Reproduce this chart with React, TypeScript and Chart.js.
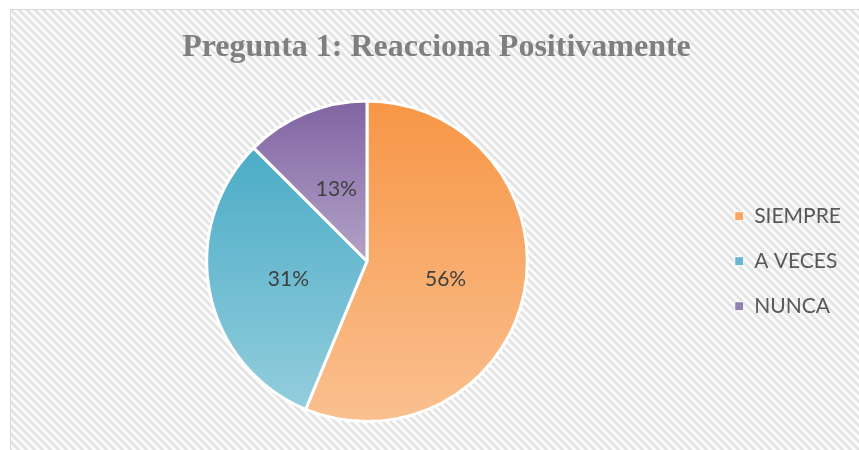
import React, { useEffect, useRef } from "react";
import { Chart, registerables } from "chart.js";

Chart.register(...registerables);

const chartTitle = "Pregunta 1: Reacciona Positivamente";
const categories = ["SIEMPRE", "A VECES", "NUNCA"];
const values = [56.25, 31.25, 12.5];
const topColors = ["#F79646", "#4BACC6", "#8064A2"];
const bottomColors = ["#FAC090", "#93CDDD", "#B3A2C7"];
const legendColors = ["#F8A665", "#68B9CF", "#9580B3"];

const PIE_CENTER_X = 356;

const hatchPlugin = {
  id: "hatchBackground",
  beforeDraw(chart: any) {
    const { ctx, width, height } = chart;
    const tile = document.createElement("canvas");
    tile.width = 8;
    tile.height = 8;
    const tctx = tile.getContext("2d")!;
    const img = tctx.createImageData(8, 8);
    for (let y = 0; y < 8; y++) {
      for (let x = 0; x < 8; x++) {
        const t = (((x - y) % 8) + 8) % 8;
        const shade = 0.5 + 0.5 * Math.cos((2 * Math.PI * t) / 8);
        const v = Math.round(255 - 30 * shade);
        const k = (y * 8 + x) * 4;
        img.data[k] = v;
        img.data[k + 1] = v;
        img.data[k + 2] = v;
        img.data[k + 3] = 255;
      }
    }
    tctx.putImageData(img, 0, 0);
    ctx.save();
    ctx.fillStyle = ctx.createPattern(tile, "repeat");
    ctx.fillRect(0, 0, width, height);
    ctx.restore();
  },
};

const shiftPlugin = {
  id: "pieShift",
  afterLayout(chart: any) {
    const a = chart.chartArea;
    const d = (a.left + a.right) / 2 - PIE_CENTER_X;
    a.left -= d;
    a.right -= d;
  },
};

const gradientPlugin = {
  id: "sliceGradient",
  beforeDatasetsDraw(chart: any) {
    const meta = chart.getDatasetMeta(0);
    meta.data.forEach((arc: any, i: number) => {
      const { y, startAngle, endAngle, outerRadius } = arc.getProps(
        ["x", "y", "startAngle", "endAngle", "outerRadius"],
        true
      );
      let top = y;
      let bottom = y;
      const consider = (a: number) => {
        const py = y + Math.sin(a) * outerRadius;
        top = Math.min(top, py);
        bottom = Math.max(bottom, py);
      };
      consider(startAngle);
      consider(endAngle);
      for (let k = -3; k <= 3; k++) {
        const a = Math.PI / 2 + k * Math.PI;
        if (a >= startAngle && a <= endAngle) consider(a);
      }
      const g = chart.ctx.createLinearGradient(0, top, 0, bottom);
      g.addColorStop(0, topColors[i]);
      g.addColorStop(1, bottomColors[i]);
      arc.options = Object.assign({}, arc.options, { backgroundColor: g });
    });
  },
};

const labelPlugin = {
  id: "sliceLabels",
  afterDatasetsDraw(chart: any) {
    const { ctx } = chart;
    const meta = chart.getDatasetMeta(0);
    const total = values.reduce((s, v) => s + v, 0);
    ctx.save();
    ctx.font = "21px Lato";
    ctx.fillStyle = "#404040";
    ctx.textAlign = "center";
    ctx.textBaseline = "middle";
    meta.data.forEach((arc: any, i: number) => {
      const p = arc.tooltipPosition(true);
      const pct = Math.round((values[i] / total) * 100) + "%";
      ctx.fillText(pct, p.x, p.y + 2);
    });
    ctx.restore();
  },
};

export default function App() {
  const ref = useRef<HTMLCanvasElement>(null);

  useEffect(() => {
    document.documentElement.style.overflow = "hidden";
    document.body.style.overflow = "hidden";
    const chart = new Chart(ref.current!, {
      type: "pie",
      data: {
        labels: categories,
        datasets: [
          {
            data: values,
            backgroundColor: legendColors,
            borderColor: "#ffffff",
            borderWidth: 3,
          },
        ],
      },
      options: {
        responsive: false,
        animation: false,
        devicePixelRatio: 1,
        layout: { padding: { left: 11, right: 12, top: 0, bottom: 37 } },
        plugins: {
          tooltip: { enabled: false },
          title: {
            display: true,
            text: chartTitle,
            color: "#7f7f7f",
            font: { family: "'Liberation Serif', 'Times New Roman', serif", size: 32, weight: "bold" },
            padding: { top: 19, bottom: 32 },
          },
          legend: {
            position: "right",
            align: "center",
            fullSize: false,
            labels: {
              boxWidth: 9,
              boxHeight: 9,
              padding: 24,
              color: "#595959",
              font: { family: "Lato", size: 21 },
              generateLabels: () =>
                categories.map((c, i) => ({
                  text: c,
                  fillStyle: legendColors[i],
                  strokeStyle: "#ffffff",
                  lineWidth: 1,
                  hidden: false,
                  index: i,
                  fontColor: "#595959",
                })),
            },
          },
        },
      },
      plugins: [hatchPlugin, shiftPlugin, gradientPlugin, labelPlugin],
    } as any);
    return () => chart.destroy();
  }, []);

  return (
    <div
      style={{
        position: "fixed",
        left: 10,
        top: 9,
        width: 852,
        height: 450,
        border: "1px solid #d9d9d9",
        overflow: "hidden",
      }}
    >
      <canvas ref={ref} width={852} height={450} style={{ display: "block" }} />
    </div>
  );
}
